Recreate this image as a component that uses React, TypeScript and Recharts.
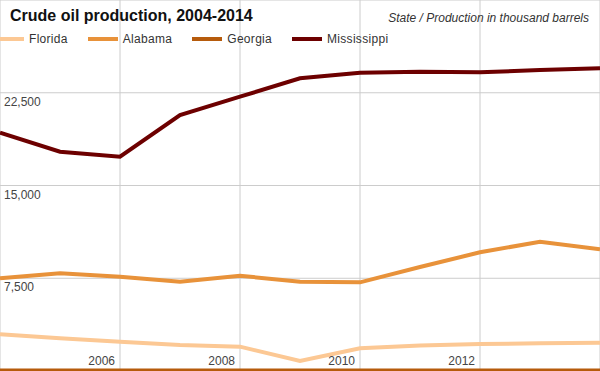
import { CartesianGrid, Line, LineChart, XAxis, YAxis } from "recharts";

const years = [2004, 2005, 2006, 2007, 2008, 2009, 2010, 2011, 2012, 2013, 2014];
const florida = [2970, 2640, 2370, 2100, 1970, 810, 1840, 2060, 2180, 2240, 2290];
const alabama = [7500, 7900, 7620, 7220, 7700, 7220, 7170, 8410, 9600, 10450, 9840];
const georgia = [40, 40, 40, 40, 40, 40, 40, 40, 40, 40, 40];
const mississippi = [19270, 17730, 17330, 20700, 22180, 23670, 24120, 24200, 24150, 24340, 24480];

const xTicks = [2004, 2006, 2008, 2010, 2012, 2014];
const yTicks = [0, 7500, 15000, 22500, 30000];

const series = [
  { key: "florida", name: "Florida", color: "#fcc894" },
  { key: "alabama", name: "Alabama", color: "#e8923a" },
  { key: "georgia", name: "Georgia", color: "#b65b0c" },
  { key: "mississippi", name: "Mississippi", color: "#6d0000" },
];

const data = years.map((year, i) => ({
  year,
  florida: florida[i],
  alabama: alabama[i],
  georgia: georgia[i],
  mississippi: mississippi[i],
}));

const FONT = '"Liberation Sans", Arial, sans-serif';
const CHART_H = 371;

function renderXTick(props: any) {
  const { x, payload } = props;
  if (payload.value === 2004 || payload.value === 2014) return <g />;
  return (
    <text x={x - 5} y={CHART_H - 6} textAnchor="end" fontSize={12} fill="#444" fontFamily={FONT}>
      {payload.value}
    </text>
  );
}

function renderYTick(props: any) {
  const { y, payload } = props;
  if (payload.value === 0 || payload.value === 30000) return <g />;
  return (
    <text x={4} y={y + 13} textAnchor="start" fontSize={12} fill="#444" fontFamily={FONT}>
      {Number(payload.value).toLocaleString("en-US")}
    </text>
  );
}

export default function App() {
  return (
    <div style={{ position: "relative", width: 600, height: CHART_H, background: "#fff", fontFamily: FONT }}>
      <style>{"body{margin:0}"}</style>
      <LineChart width={600} height={CHART_H} data={data} margin={{ top: 0, right: 0, bottom: 0, left: 0 }}>
        <CartesianGrid stroke="#cccccc" strokeWidth={1} />
        <XAxis
          dataKey="year"
          type="number"
          domain={[2004, 2014]}
          ticks={xTicks}
          mirror
          axisLine={false}
          tickLine={false}
          tick={renderXTick}
          interval={0}
        />
        <YAxis
          type="number"
          domain={[0, 30000]}
          ticks={yTicks}
          mirror
          axisLine={false}
          tickLine={false}
          tick={renderYTick}
          interval={0}
        />
        {series.map((s) => (
          <Line
            key={s.key}
            dataKey={s.key}
            name={s.name}
            type="linear"
            stroke={s.color}
            strokeWidth={4}
            dot={false}
            activeDot={false}
            isAnimationActive={false}
          />
        ))}
      </LineChart>
      <div
        style={{
          position: "absolute",
          left: 10,
          top: 7,
          fontSize: 16,
          fontWeight: "bold",
          color: "#111",
          whiteSpace: "nowrap",
        }}
      >
        Crude oil production, 2004-2014
      </div>
      <div
        style={{
          position: "absolute",
          right: 11,
          top: 11,
          fontSize: 12,
          fontStyle: "italic",
          color: "#333",
          whiteSpace: "nowrap",
        }}
      >
        State / Production in thousand barrels
      </div>
      <div style={{ position: "absolute", left: -6, top: 32, display: "flex", alignItems: "center", fontSize: 12, color: "#333" }}>
        {series.map((s) => (
          <div key={s.key} style={{ display: "flex", alignItems: "center", marginRight: 20 }}>
            <span style={{ display: "inline-block", width: 30, height: 4, background: s.color, marginRight: 5 }} />
            <span style={{ letterSpacing: 0.3 }}>{s.name}</span>
          </div>
        ))}
      </div>
    </div>
  );
}
